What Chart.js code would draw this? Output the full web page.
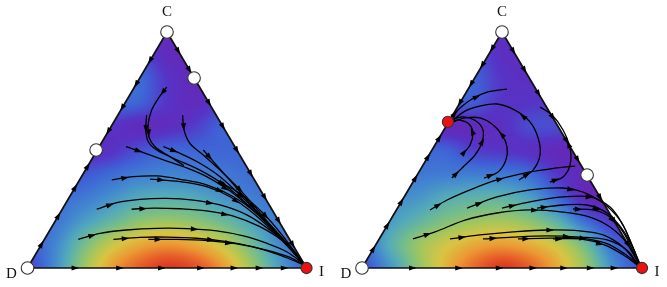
<!DOCTYPE html>
<html><head><meta charset="utf-8">
<script src="https://cdn.jsdelivr.net/npm/chart.js@4/dist/chart.umd.min.js"></script>
<style>
html,body{margin:0;padding:0;background:#fff;overflow:hidden}
#wrap{position:relative;width:667px;height:287px}
#c1{position:absolute;left:0;top:0}
#c2{position:absolute;left:334px;top:0}
</style></head>
<body><div id="wrap"><canvas id="c1" width="333" height="287"></canvas><canvas id="c2" width="333" height="287"></canvas></div>
<script>
// ---------- DATA ----------
const vertexLabels = ['D', 'I', 'C'];
const vertices = [[0, 0], [100, 0], [50, 100]];

// heat values on a grid: rows y = 0,10,...,100 ; cols x = 0,10,...,100 (0 = violet, 1 = red)
const heatLeft = [
  [0.12,0.32,0.58,0.78,0.90,0.97,0.93,0.80,0.60,0.38,0.20],
  [0.18,0.30,0.50,0.66,0.76,0.80,0.76,0.66,0.50,0.32,0.20],
  [0.20,0.25,0.36,0.46,0.55,0.58,0.55,0.48,0.38,0.27,0.20],
  [0.20,0.22,0.26,0.33,0.40,0.42,0.40,0.34,0.28,0.23,0.20],
  [0.12,0.14,0.17,0.22,0.27,0.29,0.28,0.26,0.23,0.21,0.20],
  [0.05,0.05,0.06,0.09,0.16,0.21,0.21,0.21,0.21,0.20,0.20],
  [0.12,0.12,0.12,0.10,0.06,0.07,0.12,0.20,0.20,0.20,0.20],
  [0.22,0.22,0.22,0.22,0.20,0.10,0.06,0.12,0.15,0.15,0.15],
  [0.22,0.22,0.22,0.22,0.22,0.10,0.05,0.05,0.05,0.05,0.05],
  [0.15,0.15,0.15,0.15,0.15,0.06,0.05,0.05,0.05,0.05,0.05],
  [0.06,0.06,0.06,0.06,0.06,0.06,0.06,0.06,0.06,0.06,0.06]
];
const heatRight = [
  [0.15,0.34,0.56,0.74,0.88,0.97,0.90,0.76,0.58,0.32,0.15],
  [0.22,0.42,0.58,0.68,0.76,0.79,0.75,0.66,0.48,0.22,0.15],
  [0.26,0.36,0.45,0.53,0.58,0.60,0.55,0.43,0.22,0.10,0.10],
  [0.28,0.31,0.34,0.41,0.44,0.44,0.37,0.21,0.05,0.05,0.05],
  [0.25,0.25,0.26,0.27,0.27,0.26,0.22,0.10,0.05,0.05,0.05],
  [0.20,0.20,0.20,0.20,0.12,0.10,0.08,0.05,0.05,0.05,0.05],
  [0.10,0.10,0.10,0.05,0.06,0.08,0.15,0.15,0.15,0.15,0.15],
  [0.18,0.18,0.18,0.18,0.18,0.10,0.10,0.12,0.15,0.15,0.15],
  [0.20,0.20,0.20,0.20,0.20,0.10,0.08,0.10,0.10,0.10,0.10],
  [0.10,0.10,0.10,0.10,0.15,0.08,0.08,0.08,0.08,0.08,0.08],
  [0.08,0.08,0.08,0.08,0.08,0.08,0.08,0.08,0.08,0.08,0.08]
];

// streamlines (simplex coordinates, x along D-I, y toward C)
const streamsLeft = [
  [[49.9,76.6],[46.9,71.9],[44.5,66.9],[43.3,61.3],[43.5,55.6],[45.7,51.4],[51.1,47.2],[56.1,43.4]],
  [[42.7,64.8],[42.4,58.5],[43.3,53.5],[46.3,50.0],[52.3,46.5],[61.8,41.5],[71.4,34.5],[80.9,24.6],[90.5,13.3],[98.3,2.7]],
  [[55.6,64.8],[56.1,58.5],[58.2,52.8],[63.0,47.9],[69.0,41.5],[76.2,33.1],[84.5,21.8],[92.9,10.5],[98.9,2.0]],
  [[35.3,51.4],[41.5,48.9],[48.7,45.8],[55.9,42.9],[64.2,38.7],[73.8,31.6],[83.3,21.8],[91.7,11.9],[98.6,2.3]],
  [[48.7,51.4],[54.7,48.6],[61.8,44.4],[69.0,38.7],[76.2,30.9],[84.5,21.0],[92.9,10.5],[98.9,2.0]],
  [[63.0,50.0],[71.4,38.7],[79.7,27.4],[89.3,14.7],[98.3,2.7]],
  [[30.2,37.3],[37.9,38.7],[46.3,39.0],[54.7,37.6],[64.2,35.2],[73.8,30.2],[82.1,23.2],[90.5,13.3],[98.3,2.7]],
  [[43.9,37.7],[54.7,36.6],[64.2,34.5],[72.6,30.2],[80.9,23.2],[89.3,14.0],[98.3,2.7]],
  [[68.4,36.6],[76.2,31.6],[84.5,23.2],[91.7,13.3],[98.3,2.7]],
  [[24.8,24.9],[32.0,27.7],[40.3,29.1],[49.9,29.5],[59.4,28.8],[69.0,26.7],[78.6,22.5],[86.9,16.1],[94.1,9.0],[98.9,2.0]],
  [[37.3,24.9],[45.1,25.4],[54.7,25.1],[64.2,24.2],[73.8,22.0],[83.3,17.5],[91.7,11.2],[98.6,2.3]],
  [[18.2,12.1],[26.0,14.7],[35.5,16.1],[46.3,16.8],[57.1,16.7],[67.8,15.7],[77.4,13.6],[85.7,10.5],[92.9,6.9],[99.1,1.7]],
  [[30.8,12.1],[40.3,13.0],[49.9,13.1],[60.6,12.6],[71.4,11.2],[80.9,9.0],[90.5,5.5],[99.1,1.3]],
  [[43.3,12.1],[53.5,12.1],[64.2,11.6],[75.0,10.2],[85.7,7.6],[94.1,4.5],[99.4,1.0]]
];
const streamsRight = [
  [[35.7,47.9],[38.6,52.1],[39.6,57.2],[38.2,61.0],[35.0,62.7],[32.1,62.3]],
  [[32.1,38.1],[36.1,42.8],[40.4,47.9],[42.9,53.4],[43.2,58.5],[40.7,62.3],[36.1,64.0],[32.5,63.1]],
  [[43.6,38.1],[48.6,40.7],[51.4,45.8],[51.8,51.3],[50.0,56.4],[46.4,61.0],[42.1,63.6],[36.8,63.6],[32.5,61.9]],
  [[56.1,37.3],[61.1,41.5],[63.6,47.9],[62.9,55.1],[60.0,61.9],[54.6,66.9],[48.2,69.5],[42.1,68.6],[36.8,66.5],[32.5,62.7]],
  [[32.1,64.0],[35.0,67.8],[39.3,71.6],[45.0,74.6],[51.8,75.8]],
  [[67.1,36.4],[71.8,38.6],[74.3,43.6],[74.3,50.8],[71.8,58.5],[67.9,64.8],[63.6,68.2]],
  [[24.3,24.6],[30.4,28.8],[38.6,33.1],[48.2,37.3],[60.0,40.7],[69.6,42.4],[76.1,43.2]],
  [[18.2,12.3],[26.1,15.3],[36.8,20.3],[48.2,23.3],[60.0,24.6],[71.8,23.7],[81.4,21.6],[88.6,17.4],[94.6,10.6],[98.9,1.7]],
  [[31.4,12.3],[42.1,14.0],[53.9,15.3],[66.1,16.1],[77.9,15.7],[86.1,14.0],[93.2,8.9],[98.6,1.3]],
  [[43.2,12.3],[53.9,13.1],[66.1,13.6],[77.9,13.1],[87.5,11.9],[94.6,7.6],[98.9,0.8]],
  [[55.7,12.3],[67.1,12.7],[77.9,12.7],[86.8,10.6],[93.9,5.9],[99.3,0.8]],
  [[68.2,12.3],[77.9,12.3],[86.8,9.7],[93.9,5.1],[99.3,0.4]],
  [[37.5,25.4],[48.2,30.1],[60.0,33.1],[71.8,33.9],[78.9,32.2],[86.1,27.5],[92.1,20.3],[95.7,11.9],[98.9,2.1]],
  [[50.0,25.4],[60.0,28.0],[71.8,30.1],[81.4,30.1],[88.6,25.8],[93.2,18.2],[96.4,9.7],[99.3,1.7]],
  [[62.5,25.4],[71.8,26.7],[80.4,26.7],[87.5,23.3],[93.2,16.1],[97.5,6.8]],
  [[75.4,25.0],[82.5,24.6],[88.6,21.6],[93.2,15.3],[97.5,5.5]]
];

// rest points: [x, y, stable]
const fixedLeft  = [[0,0,false],[100,0,true],[50,100,false],[59.7,80.5,false],[24.6,50.0,false]];
const fixedRight = [[0,0,false],[100,0,true],[50,100,false],[30.7,61.9,true],[80.4,39.4,false]];

// flow arrows on the edges: [position, direction]
const edgeLeft = {
  bottom: [[17,1],[33,1],[48,1],[62,1],[74,1],[83,1],[92,1]],
  left:   [[10,1],[22,1],[34,1],[43,1],[58,-1],[68,-1],[78,-1],[88,-1]],
  right:  [[92,-1],[84,-1],[70,-1],[60,-1],[50,-1],[40,-1],[30,-1],[20,-1],[10,-1]]
};
const edgeRight = {
  bottom: [[18,1],[34.5,1],[49,1],[61,1],[72,1],[81.5,1],[90,1]],
  left:   [[8,1],[18,1],[28,1],[38,1],[47,1],[55,1],[70,-1],[78,-1],[86,-1],[93,-1]],
  right:  [[92,-1],[84,-1],[74,-1],[64,-1],[54,-1],[46,-1],[30,-1],[20,-1],[10,-1]]
};

// ---------- RENDERING ----------
const cmapStops = [
  [0.00,[110,32,174]],[0.10,[86,52,198]],[0.20,[62,98,214]],[0.30,[66,134,208]],
  [0.40,[82,168,188]],[0.50,[114,188,142]],[0.60,[164,198,92]],[0.70,[218,196,66]],
  [0.80,[236,152,52]],[0.90,[230,92,40]],[1.00,[214,40,30]]
];
function cmap(v){
  v = Math.max(0, Math.min(1, v));
  for (let i = 1; i < cmapStops.length; i++) {
    if (v <= cmapStops[i][0]) {
      const a = cmapStops[i-1], b = cmapStops[i];
      const t = (v - a[0]) / (b[0] - a[0]);
      return [0,1,2].map(k => a[1][k] + (b[1][k] - a[1][k]) * t);
    }
  }
  return cmapStops[cmapStops.length-1][1];
}
function cr(p0,p1,p2,p3,t){
  return 0.5*((2*p1)+(-p0+p2)*t+(2*p0-5*p1+4*p2-p3)*t*t+(-p0+3*p1-3*p2+p3)*t*t*t);
}
function sample(g, x, y){
  const fx = Math.max(0, Math.min(10, x/10)), fy = Math.max(0, Math.min(10, y/10));
  let i = Math.min(9, Math.max(0, Math.floor(fx)));
  let j = Math.min(9, Math.max(0, Math.floor(fy)));
  const tx = fx - i, ty = fy - j;
  const get = (r, c) => g[Math.min(10, Math.max(0, r))][Math.min(10, Math.max(0, c))];
  const rows = [];
  for (let m = -1; m <= 2; m++) rows.push(cr(get(j+m,i-1), get(j+m,i), get(j+m,i+1), get(j+m,i+2), tx));
  return cr(rows[0], rows[1], rows[2], rows[3], ty);
}
function arrowHead(ctx, x, y, dx, dy){
  const m = Math.hypot(dx, dy) || 1; dx /= m; dy /= m;
  const nx = -dy, ny = dx, L = 7.5, H = 2.6;
  ctx.beginPath();
  ctx.moveTo(x + dx*L*0.55, y + dy*L*0.55);
  ctx.lineTo(x - dx*L*0.45 + nx*H, y - dy*L*0.45 + ny*H);
  ctx.lineTo(x - dx*L*0.45 - nx*H, y - dy*L*0.45 - ny*H);
  ctx.closePath(); ctx.fill();
}

function makePanel(id, heat, streams, fixed, edges, xmin, xmax){
  const heatPlugin = {
    id: 'heat' + id,
    beforeDatasetsDraw(chart){
      const {ctx, chartArea: a, scales: {x: sx, y: sy}} = chart;
      const w = Math.round(a.right - a.left), h = Math.round(a.bottom - a.top);
      const off = document.createElement('canvas'); off.width = w; off.height = h;
      const octx = off.getContext('2d'); const img = octx.createImageData(w, h);
      for (let py = 0; py < h; py++) {
        const yv = sy.getValueForPixel(a.top + py + 0.5);
        if (yv < -4 || yv > 104) continue;
        for (let px = 0; px < w; px++) {
          const xv = sx.getValueForPixel(a.left + px + 0.5);
          if (xv < yv/2 - 3 || xv > 100 - yv/2 + 3) continue;
          const c = cmap(sample(heat, xv, yv));
          const k = (py*w + px)*4;
          img.data[k] = c[0]; img.data[k+1] = c[1]; img.data[k+2] = c[2]; img.data[k+3] = 255;
        }
      }
      octx.putImageData(img, 0, 0);
      ctx.save();
      ctx.beginPath();
      vertices.forEach((v, i) => {
        const X = sx.getPixelForValue(v[0]), Y = sy.getPixelForValue(v[1]);
        if (i === 0) ctx.moveTo(X, Y); else ctx.lineTo(X, Y);
      });
      ctx.closePath(); ctx.clip();
      ctx.filter = 'blur(1.2px)';
      ctx.drawImage(off, a.left, a.top);
      ctx.restore();
    },
    beforeDatasetDraw(chart, args){
      const ds = chart.data.datasets[args.index];
      if (!ds.isFixed) return;
      const {ctx, scales: {x: sx, y: sy}} = chart;
      ctx.save(); ctx.fillStyle = '#000';
      chart.data.datasets.forEach((d, i) => {
        if (!d.isStream) return;
        const pts = chart.getDatasetMeta(i).data.map(e => [e.x, e.y]);
        const cum = [0];
        for (let k = 1; k < pts.length; k++) cum.push(cum[k-1] + Math.hypot(pts[k][0]-pts[k-1][0], pts[k][1]-pts[k-1][1]));
        const total = cum[cum.length-1];
        [0.06, 0.5].forEach(f => {
          const s = f*total;
          let k = 1; while (k < pts.length-1 && cum[k] < s) k++;
          const t = (s - cum[k-1]) / ((cum[k]-cum[k-1]) || 1);
          const x = pts[k-1][0] + (pts[k][0]-pts[k-1][0])*t;
          const y = pts[k-1][1] + (pts[k][1]-pts[k-1][1])*t;
          arrowHead(ctx, x, y, pts[k][0]-pts[k-1][0], pts[k][1]-pts[k-1][1]);
        });
      });
      const put = (p, q) => {
        const x = sx.getPixelForValue(p[0]), y = sy.getPixelForValue(p[1]);
        arrowHead(ctx, x, y, sx.getPixelForValue(q[0]) - x, sy.getPixelForValue(q[1]) - y);
      };
      edges.bottom.forEach(([t, d]) => put([t, 0], [t + d, 0]));
      edges.left.forEach(([t, d]) => put([t/2, t], [(t+d)/2, t+d]));
      edges.right.forEach(([t, d]) => put([100 - t/2, t], [100 - (t+d)/2, t+d]));
      ctx.restore();
    },
    afterDraw(chart){
      const {ctx, scales: {x: sx, y: sy}} = chart;
      const offs = [[-16, 6], [15, 4], [0, -20]];
      ctx.save();
      ctx.fillStyle = '#111';
      ctx.font = '15px "Liberation Serif", "DejaVu Serif", serif';
      ctx.textAlign = 'center'; ctx.textBaseline = 'middle';
      vertices.forEach((v, i) => {
        ctx.fillText(vertexLabels[i], sx.getPixelForValue(v[0]) + offs[i][0], sy.getPixelForValue(v[1]) + offs[i][1]);
      });
      ctx.restore();
    }
  };

  const datasets = [];
  datasets.push({
    type: 'line', data: [...vertices, vertices[0]].map(v => ({x: v[0], y: v[1]})),
    borderColor: '#111', borderWidth: 1.7, pointRadius: 0, tension: 0, fill: false, order: 2, clip: false
  });
  streams.forEach(s => datasets.push({
    type: 'line', isStream: true, data: s.map(p => ({x: p[0], y: p[1]})),
    borderColor: '#000', borderWidth: 1.3, pointRadius: 0, tension: 0.35, fill: false, order: 1, clip: false
  }));
  datasets.push({
    type: 'scatter', isFixed: true, data: fixed.map(p => ({x: p[0], y: p[1]})),
    pointRadius: fixed.map(p => p[2] ? 5.6 : 6.3),
    pointBackgroundColor: fixed.map(p => p[2] ? '#ee1111' : '#ffffff'),
    pointBorderColor: '#333', pointBorderWidth: 1.1, order: 0, clip: false
  });

  return new Chart(document.getElementById(id), {
    type: 'scatter',
    data: { datasets },
    options: {
      responsive: false, animation: false, devicePixelRatio: 1,
      layout: { padding: 0, autoPadding: false },
      plugins: { legend: { display: false }, tooltip: { enabled: false } },
      scales: {
        x: { type: 'linear', display: false, min: xmin, max: xmax },
        y: { type: 'linear', display: false, min: -8.05, max: 113.56 }
      }
    },
    plugins: [heatPlugin]
  });
}

makePanel('c1', heatLeft, streamsLeft, fixedLeft, edgeLeft, -9.86, 109.5);
makePanel('c2', heatRight, streamsRight, fixedRight, edgeRight, -10.0, 108.93);
</script>
</body></html>
